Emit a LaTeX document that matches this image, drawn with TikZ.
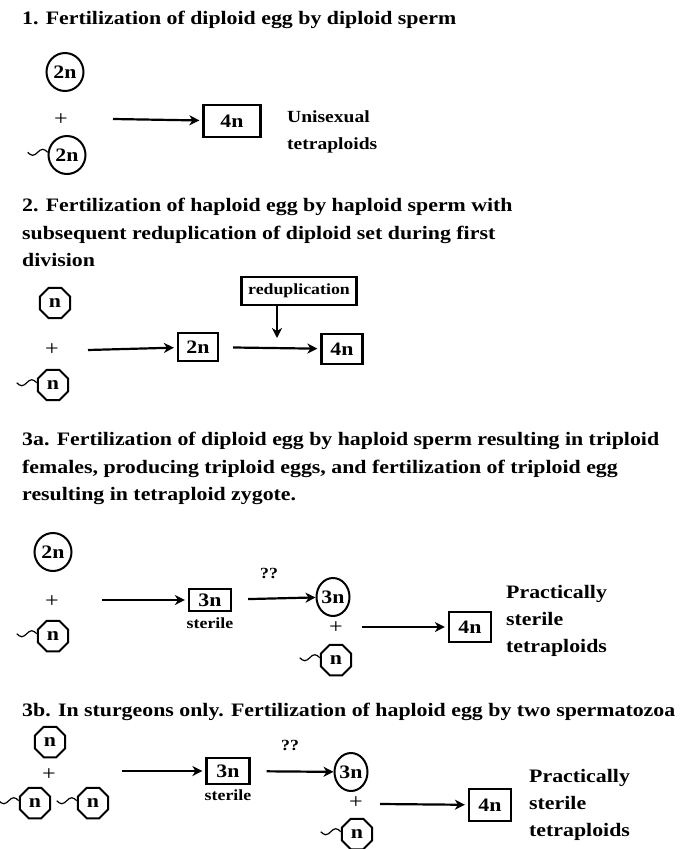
\documentclass[tikz,border=0pt]{standalone}
\usepackage{fontspec}
\setmainfont[FakeStretch=1.15]{Liberation Serif}
\usetikzlibrary{shapes.geometric, arrows, arrows.meta, positioning, calc}

\newcommand{\spermtail}[1]{\draw[wiggle] (#1.172) sin ++(-5,-3) cos ++(-5,3) sin ++(-5,3) cos ++(-5,-3);}

\begin{document}
\begin{tikzpicture}[
    x=1pt, y=-1pt,
    font=\bfseries\fontsize{19}{27.5}\selectfont,
    title/.style={anchor=north west, align=left, inner sep=0pt},
    diploid/.style={ellipse, draw, line width=2pt, minimum width=37pt, minimum height=38pt, inner sep=0pt},
    haploid/.style={regular polygon, regular polygon sides=8, draw, line width=2pt, minimum size=33pt, inner sep=0pt},
    ploidy/.style={rectangle, draw, line width=2.2pt, minimum width=42pt, minimum height=29pt, inner sep=2pt},
    plus/.style={font=\mdseries\fontsize{21}{21}\selectfont},
    small/.style={font=\bfseries\fontsize{15.5}{17}\selectfont},
    result/.style={anchor=north west, align=left, inner sep=0pt, font=\bfseries\fontsize{17}{27}\selectfont},
    bigresult/.style={result, font=\bfseries\fontsize{19}{27}\selectfont},
    arrow/.style={line width=2.2pt, -{Stealth[length=10pt, width=10pt, inset=3pt]}, shorten >=3pt},
    wiggle/.style={line width=1.2pt}
]
\useasboundingbox (0,0) rectangle (681,849);

% 1
\node[title] (t1) at (22,11) {1. Fertilization of diploid egg by diploid sperm};
\node[diploid] (egg1) at (65,72) {2n};
\node[plus] (plus1) at (61,120) {+};
\node[diploid] (sperm1) at (67,155) {2n};
\spermtail{sperm1}
\coordinate (from1) at (113,119);
\node[ploidy, minimum width=57pt, minimum height=32pt] (tet1) at (232,121) {4n};
\node[result] (res1) at (287,111) {Unisexual\\tetraploids};
\draw[arrow] (from1) -- (tet1);

% 2
\node[title] (t2) at (22,198) {2. Fertilization of haploid egg by haploid sperm with\\subsequent reduplication of diploid set during first\\division};
\node[haploid] (egg2) at (55,303) {n};
\node[plus] (plus2) at (52,350) {+};
\node[haploid] (sperm2) at (53,385) {n};
\spermtail{sperm2}
\coordinate (from2) at (88,350);
\node[ploidy, minimum width=40pt, minimum height=28pt] (dip2) at (198,347) {2n};
\node[ploidy, minimum width=41pt, minimum height=30pt] (tet2) at (342,349) {4n};
\node[ploidy, small, minimum width=115pt, minimum height=28pt] (redup) at (299,291) {reduplication};
\coordinate (merge2) at (277,338);
\draw[arrow] (from2) -- (dip2);
\draw[arrow, shorten <=14pt] (dip2) -- (tet2);
\draw[arrow, shorten >=0pt] ([xshift=-22pt]redup.south) -- (merge2);

% 3a
\node[title] (t3a) at (22,432) {3a. Fertilization of diploid egg by haploid sperm resulting in triploid\\females, producing triploid eggs, and fertilization of triploid egg\\resulting in tetraploid zygote.};
\node[diploid] (egg3a) at (53,552) {2n};
\node[plus] (plus3a) at (52,602) {+};
\node[haploid] (sperm3a) at (53,636) {n};
\spermtail{sperm3a}
\coordinate (from3a) at (102,600);
\node[ploidy, minimum width=42pt, minimum height=22pt] (tri3a) at (210,600) {3n};
\node[small, below=2pt of tri3a] (ster3a) {sterile};
\node[small] (q3a) at (269,573) {??};
\node[diploid, minimum width=33pt] (zyg3a) at (333,597) {3n};
\node[plus] (plus3a2) at (336,628) {+};
\node[haploid] (sperm3a2) at (336,660) {n};
\spermtail{sperm3a2}
\coordinate (from3a2) at (362,627);
\node[ploidy, minimum width=42pt, minimum height=30pt] (tet3a) at (470,627) {4n};
\node[bigresult] (res3a) at (506,585) {Practically\\sterile\\tetraploids};
\draw[arrow] (from3a) -- (tri3a);
\draw[arrow, shorten <=16pt, shorten >=0pt] (tri3a) -- (zyg3a);
\draw[arrow] (from3a2) -- (tet3a);

% 3b
\node[title] (t3b) at (22,703) {3b. In sturgeons only. Fertilization of haploid egg by two spermatozoa};
\node[haploid] (egg3b) at (50,742) {n};
\node[plus] (plus3b) at (49,775) {+};
\node[haploid] (sperm3b) at (35,803) {n};
\spermtail{sperm3b}
\node[haploid] (spermb3b) at (93,803) {n};
\spermtail{spermb3b}
\coordinate (from3b) at (122,771);
\node[ploidy, minimum width=43pt, minimum height=26pt] (tri3b) at (228,771) {3n};
\node[small, below=1pt of tri3b] (ster3b) {sterile};
\node[small] (q3b) at (290,745) {??};
\node[diploid, minimum width=33pt] (zyg3b) at (351,772) {3n};
\node[plus] (plus3b2) at (356,803) {+};
\node[haploid] (sperm3b2) at (357,834) {n};
\spermtail{sperm3b2}
\coordinate (from3b2) at (380,804);
\node[ploidy, minimum width=42pt, minimum height=32pt] (tet3b) at (490,805) {4n};
\node[bigresult] (res3b) at (529,769) {Practically\\sterile\\tetraploids};
\draw[arrow] (from3b) -- (tri3b);
\draw[arrow, shorten <=16pt, shorten >=0pt] (tri3b) -- (zyg3b);
\draw[arrow] (from3b2) -- (tet3b);
\end{tikzpicture}
\end{document}
